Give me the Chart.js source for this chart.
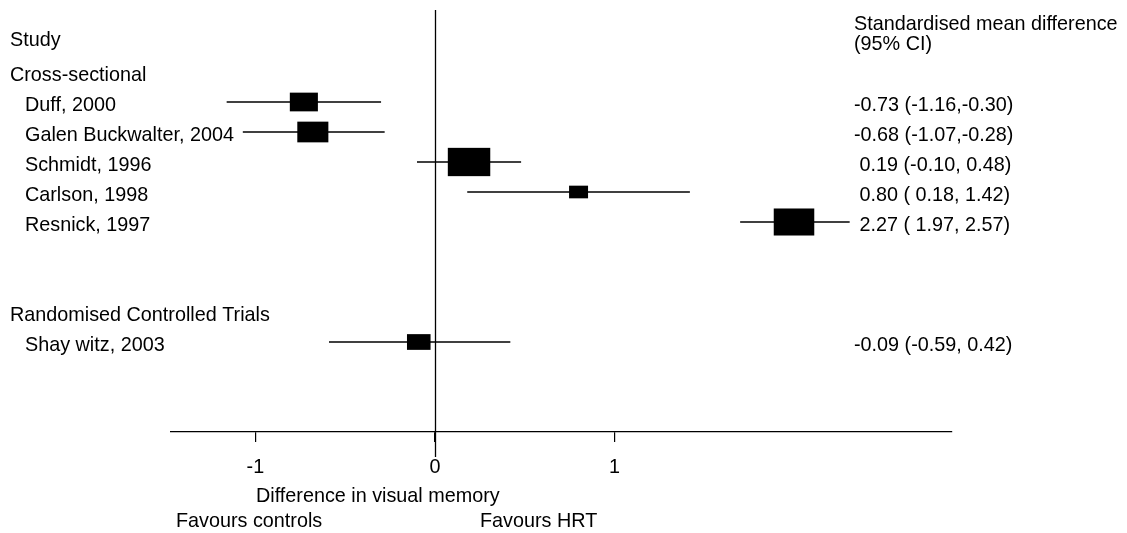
<!DOCTYPE html>
<html>
<head>
<meta charset="utf-8">
<title>HRT and visual memory - forest plot</title>
<script src="https://cdn.jsdelivr.net/npm/chart.js@4.4.0/dist/chart.umd.min.js"></script>
<style>
  html, body { margin: 0; padding: 0; background: #fff; }
  #wrap { width: 1127px; height: 533px; position: relative; }
</style>
</head>
<body>
<div id="wrap"><canvas id="forestChart"></canvas></div>
<script>
// study names and the row each one sits on (row 0 = first study)
const studies = ['Duff, 2000', 'Galen Buckwalter, 2004', 'Schmidt, 1996', 'Carlson, 1998', 'Resnick, 1997', 'Shay witz, 2003'];
const rows = [0, 1, 2, 3, 4, 8];

// plotted estimate and 95% CI, as drawn in the figure
const estimate = [-0.73, -0.68, 0.19, 0.80, 2.00, -0.09];
const lower = [-1.16, -1.07, -0.10, 0.18, 1.70, -0.59];
const upper = [-0.30, -0.28, 0.48, 1.42, 2.31, 0.42];

// relative study weights (box size)
const weights = [12.9, 15.8, 29.5, 5.9, 26.9, 9.1];

// right-hand column text
const ciLabels = ['-0.73 (-1.16,-0.30)', '-0.68 (-1.07,-0.28)', ' 0.19 (-0.10, 0.48)', ' 0.80 ( 0.18, 1.42)', ' 2.27 ( 1.97, 2.57)', '-0.09 (-0.59, 0.42)'];

// subgroup headings
const groupLabels = ['Cross-sectional', 'Randomised Controlled Trials'];
const groupRows = [-1, 7];

const xTicks = [-1, 0, 1];

const FAMILY = '"Liberation Sans", Arial, Helvetica, sans-serif';
const FONT_SIZE = 19.8;
const FONT = FONT_SIZE + 'px ' + FAMILY;

// vertical line of no effect, drawn a bit past the axis like the original
const refLinePlugin = {
    id: 'refLine',
    beforeDatasetsDraw(chart) {
        const ctx = chart.ctx;
        const x0 = Math.round(chart.scales.x.getPixelForValue(0)) + 0.5;
        ctx.save();
        ctx.strokeStyle = '#000';
        ctx.lineWidth = 1.3;
        ctx.beginPath();
        ctx.moveTo(x0, chart.chartArea.top - 2);
        ctx.lineTo(x0, chart.chartArea.bottom + 25);
        ctx.stroke();
        ctx.restore();
    }
};

// weighted boxes at each estimate
const boxPlugin = {
    id: 'boxes',
    afterDatasetsDraw(chart) {
        const ctx = chart.ctx;
        const xs = chart.scales.x, ys = chart.scales.y;
        ctx.save();
        ctx.fillStyle = '#000';
        estimate.forEach((v, i) => {
            const h = 5.21 * Math.sqrt(weights[i]);
            const w = h * 1.5;
            const cx = xs.getPixelForValue(v);
            const cy = ys.getPixelForValue(rows[i]);
            ctx.fillRect(cx - w / 2, cy - h / 2, w, h);
        });
        ctx.restore();
    }
};

// all the table text around the plot
const textPlugin = {
    id: 'forestText',
    afterDraw(chart) {
        const ctx = chart.ctx;
        const ys = chart.scales.y;
        ctx.save();
        ctx.font = FONT;
        ctx.fillStyle = '#000';
        ctx.textAlign = 'left';
        ctx.textBaseline = 'alphabetic';

        ctx.fillText('Study', 10, 46);
        ctx.fillText('Standardised mean difference', 854, 30);
        ctx.fillText('(95% CI)', 854, 50);

        groupLabels.forEach((g, i) => {
            ctx.fillText(g, 10, ys.getPixelForValue(groupRows[i]) + 9);
        });
        studies.forEach((s, i) => {
            const y = ys.getPixelForValue(rows[i]) + 9;
            ctx.fillText(s, 25, y);
            ctx.fillText(ciLabels[i], 854, y);
        });

        ctx.fillText('Difference in visual memory', 256, 502);
        ctx.fillText('Favours controls', 176, 527);
        ctx.fillText('Favours HRT', 480, 527);
        ctx.restore();
    }
};

function initializeForestChart() {
    const ctx = document.getElementById('forestChart');
    if (!ctx) return;

    const ciSets = studies.map((s, i) => ({
        label: s,
        data: [{ x: lower[i], y: rows[i] }, { x: upper[i], y: rows[i] }],
        showLine: true,
        borderColor: '#000',
        borderWidth: 1.3,
        pointRadius: 0
    }));

    new Chart(ctx, {
        type: 'scatter',
        data: { datasets: ciSets },
        options: {
            responsive: true,
            maintainAspectRatio: false,
            animation: false,
            events: [],
            layout: { padding: { left: 171, right: 175, top: 12, bottom: 56 } },
            plugins: {
                legend: { display: false },
                tooltip: { enabled: false }
            },
            scales: {
                x: {
                    type: 'linear',
                    position: 'bottom',
                    min: -1.47,
                    max: 2.88,
                    afterBuildTicks: (scale) => {
                        scale.ticks = xTicks.map(v => ({ value: v }));
                    },
                    afterFit: (scale) => { scale.height = 45; },
                    grid: {
                        drawOnChartArea: false,
                        drawTicks: true,
                        tickLength: 10,
                        color: '#000',
                        lineWidth: 1.2
                    },
                    border: { display: true, color: '#000', width: 1.3 },
                    ticks: {
                        color: '#000',
                        padding: 14,
                        maxRotation: 0,
                        font: { family: FAMILY, size: FONT_SIZE },
                        callback: (value) => String(value)
                    }
                },
                y: {
                    type: 'linear',
                    display: false,
                    reverse: true,
                    min: -3,
                    max: 11
                }
            }
        },
        plugins: [refLinePlugin, boxPlugin, textPlugin]
    });
}

document.addEventListener('DOMContentLoaded', function() {
    initializeForestChart();
});
</script>
</body>
</html>
